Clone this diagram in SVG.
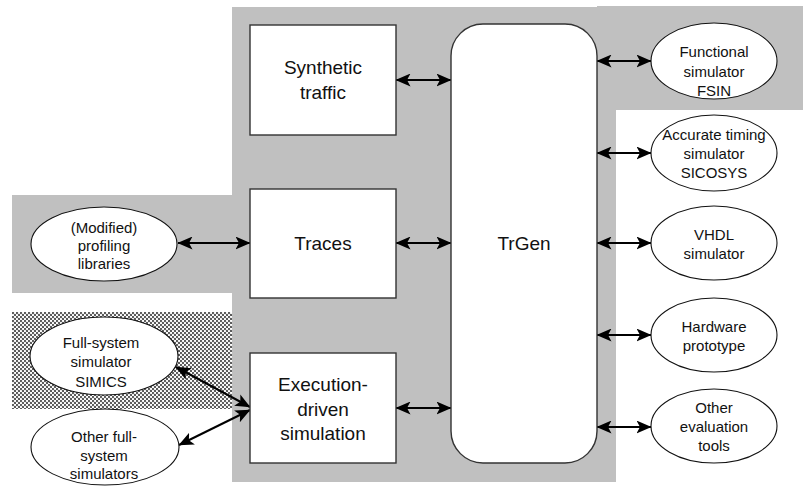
<svg xmlns="http://www.w3.org/2000/svg" width="803" height="489" viewBox="0 0 803 489">
<style>
.bg{fill:#c0c0c0}
.box{fill:#fff;stroke:#333;stroke-width:1.4}
.ell{fill:#fff;stroke:#111;stroke-width:1.1}
.t{font-family:"Liberation Sans",Arial,sans-serif;fill:#111;text-anchor:middle}
.big{font-size:19px}
.sm{font-size:15px}
.ar{stroke:#000;stroke-width:2;fill:none;marker-start:url(#ah);marker-end:url(#ah)}
</style>
<defs>
<marker id="ah" viewBox="0 0 15 13" refX="14.5" refY="6.5" markerWidth="15" markerHeight="13" markerUnits="userSpaceOnUse" orient="auto-start-reverse">
<path d="M0,0 L15,6.5 L0,13 L3.5,6.5 Z" fill="#000"/>
</marker>
<pattern id="dots" width="4" height="4" patternUnits="userSpaceOnUse">
<rect width="4" height="4" fill="#fff"/>
<circle cx="1" cy="1" r="1.15" fill="#555"/>
<circle cx="3" cy="3" r="1.15" fill="#555"/>
</pattern>
</defs>
<g id="regions">
<path class="bg" d="M232,7 H597 V6 H803 V110 H616 V482 H232 Z"/>
<rect class="bg" x="12" y="195" width="221" height="98"/>
<rect x="12" y="312" width="220" height="97" fill="url(#dots)"/>
</g>
<g id="connectors">
<line class="ar" x1="396" y1="80" x2="451" y2="80"/>
<line class="ar" x1="396" y1="243" x2="451" y2="243"/>
<line class="ar" x1="396" y1="408" x2="451" y2="408"/>
<line class="ar" x1="178" y1="243" x2="250" y2="243"/>
<line class="ar" x1="176" y1="367" x2="250" y2="407"/>
<line class="ar" x1="179" y1="445" x2="250" y2="410"/>
<line class="ar" x1="597" y1="61" x2="651" y2="61"/>
<line class="ar" x1="597" y1="153" x2="651" y2="153"/>
<line class="ar" x1="597" y1="243" x2="651" y2="243"/>
<line class="ar" x1="597" y1="335" x2="651" y2="335"/>
<line class="ar" x1="597" y1="427" x2="651" y2="427"/>
</g>
<g id="synthetic">
<rect class="box" x="250" y="25" width="146" height="110"/>
<text class="t big" x="323" y="74">Synthetic</text>
<text class="t big" x="323" y="99">traffic</text>
</g>
<g id="traces">
<rect class="box" x="250" y="189" width="146" height="109"/>
<text class="t big" x="323" y="250">Traces</text>
</g>
<g id="execution">
<rect class="box" x="250" y="353" width="146" height="110"/>
<text class="t big" x="323" y="391">Execution-</text>
<text class="t big" x="323" y="415.5">driven</text>
<text class="t big" x="323" y="440">simulation</text>
</g>
<g id="trgen">
<rect class="box" x="451" y="24" width="146" height="439" rx="32" ry="32"/>
<text class="t big" x="524" y="250">TrGen</text>
</g>
<g id="fsin">
<ellipse class="ell" cx="714" cy="61" rx="63" ry="38"/>
<text class="t sm" x="714" y="57">Functional</text>
<text class="t sm" x="714" y="77">simulator</text>
<text class="t sm" x="714" y="96">FSIN</text>
</g>
<g id="sicosys">
<ellipse class="ell" cx="714" cy="153" rx="63" ry="38"/>
<text class="t sm" x="714" y="140">Accurate timing</text>
<text class="t sm" x="714" y="159">simulator</text>
<text class="t sm" x="714" y="178">SICOSYS</text>
</g>
<g id="vhdl">
<ellipse class="ell" cx="714" cy="243" rx="63" ry="37"/>
<text class="t sm" x="714" y="240">VHDL</text>
<text class="t sm" x="714" y="259">simulator</text>
</g>
<g id="hardware">
<ellipse class="ell" cx="714" cy="335" rx="63" ry="37"/>
<text class="t sm" x="714" y="332">Hardware</text>
<text class="t sm" x="714" y="351">prototype</text>
</g>
<g id="other-eval">
<ellipse class="ell" cx="714" cy="426" rx="63" ry="37"/>
<text class="t sm" x="714" y="413">Other</text>
<text class="t sm" x="714" y="432">evaluation</text>
<text class="t sm" x="714" y="451">tools</text>
</g>
<g id="profiling">
<ellipse class="ell" cx="104" cy="244" rx="73" ry="37"/>
<text class="t sm" x="104" y="233">(Modified)</text>
<text class="t sm" x="104" y="251">profiling</text>
<text class="t sm" x="104" y="269">libraries</text>
</g>
<g id="simics">
<ellipse class="ell" cx="104" cy="356" rx="74" ry="39"/>
<text class="t sm" x="101" y="348">Full-system</text>
<text class="t sm" x="101" y="367">simulator</text>
<text class="t sm" x="101" y="387">SIMICS</text>
</g>
<g id="other-fullsys">
<ellipse class="ell" cx="105" cy="447" rx="74" ry="38"/>
<text class="t sm" x="104" y="442">Other full-</text>
<text class="t sm" x="104" y="461">system</text>
<text class="t sm" x="104" y="479">simulators</text>
</g>
</svg>
